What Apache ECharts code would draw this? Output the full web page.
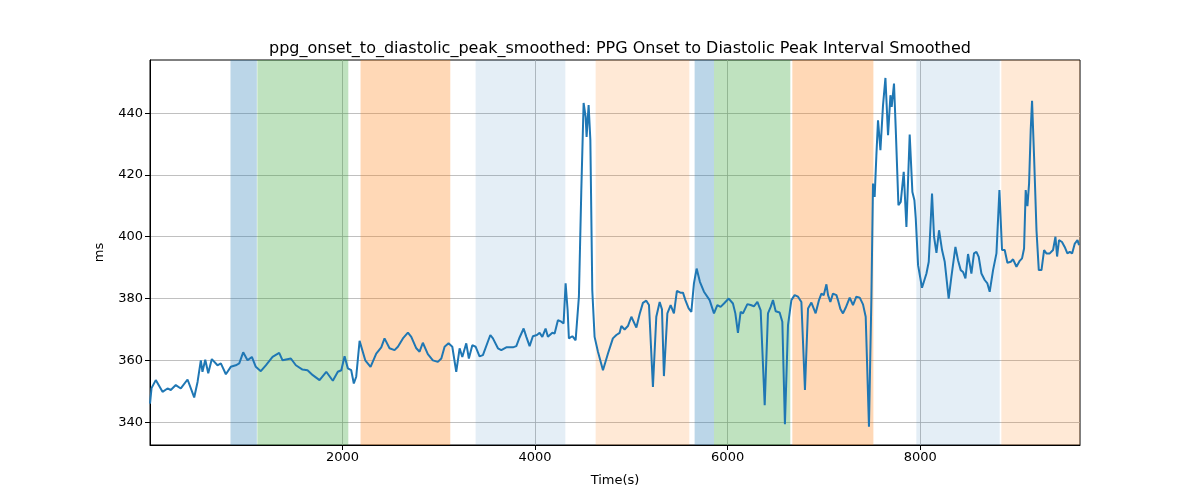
<!DOCTYPE html>
<html>
<head>
<meta charset="utf-8">
<script src="https://cdn.jsdelivr.net/npm/echarts@6/dist/echarts.min.js"></script>
<style>html,body{margin:0;padding:0;background:#fff;}#chart{width:1200px;height:500px;}</style>
</head>
<body>
<div id="chart"></div>
<script>
const titleText = 'ppg_onset_to_diastolic_peak_smoothed: PPG Onset to Diastolic Peak Interval Smoothed';
const xLabel = 'Time(s)';
const yLabel = 'ms';
const xTicks = [2000, 4000, 6000, 8000];
const yTicks = [340, 360, 380, 400, 420, 440];

const timeS = [0,16,60,130,182,216,268,320,390,459,494,528,545,574,605,642,701,736,788,839,891,927,968,1013,1058,1099,1151,1203,1273,1342,1377,1463,1515,1584,1636,
1691,1761,1831,1899,1951,1987,2021,2055,2090,2117,2142,2177,2236,2291,2350,2402,2436,2488,2540,2575,2627,2679,2714,2766,2800,2834,2886,2938,2990,3026,3060,3101,3140,3181,3216,3244,3285,3312,3348,3382,3423,3458,3535,3562,3614,3649,3701,3770,3805,3839,3881,3909,3943,3977,4019,4047,4075,4109,4133,4179,4203,4237,4272,4296,4317,4338,4351,4387,4421,4455,4480,4504,4525,4535,4556,4574,4594,4618,4653,4705,4757,4808,4844,4878,
4896,4930,4964,5000,5052,5086,5120,5155,5183,5224,5259,5294,5318,5338,5374,5408,5442,5473,5509,5536,5561,5595,5623,5650,5678,5712,5754,5813,5858,5893,5927,5962,6011,6055,6080,6107,6135,6159,6205,6239,6273,6309,6343,6385,6419,6447,6471,6499,6540,6568,6595,6627,6662,6696,6731,6766,6803,6835,6870,6914,6949,6974,6998,7026,7043,7067,7094,7130,7146,7171,7198,7226,7268,7302,7337,7372,7406,7434,7468,7493,7510,7527,7545,7562,7587,7614,7639,7666,7691,7704,7728,7746,7774,7798,7829,7857,7891,7919,7940,7954,7978,8019,8065,8089,8123,8144,8169,8196,8227,8255,8296,8324,8366,8393,8421,8445,8470,8497,8532,8559,8584,8608,8636,8670,8698,8722,8757,8792,8823,8850,8878,8906,8941,8965,9000,9034,9058,9079,9096,9114,9131,9148,9162,9183,9208,9232,9260,9287,9311,9346,9380,9405,9422,9442,9473,9501,9529,9554,9578,9606,9634,9650];

const valueMs = [346,351,353.6,349.8,350.9,350.4,352,350.9,353.8,348,353,360,356.3,360.2,355.8,360.4,358.4,359,355.5,357.9,358.4,359,362.6,360,361.1,357.9,356.5,358.4,361.1,362.4,360,360.6,358.4,357,356.8,
355.2,353.6,356.3,353.4,356.3,356.8,361.3,357.4,356.8,352.5,354.7,366.3,360,357.9,362.2,364.2,367.1,363.9,363.3,364.4,367.1,369,367.6,363.9,362.8,365.7,362,360,359.5,360.6,364.4,365.5,364.4,356.3,363.9,361.1,365.5,360.6,364.9,364.4,361.3,361.7,368.2,367.1,363.9,363.3,364.2,364.2,364.6,367.4,370.3,367.6,364.6,367.8,368.2,368.9,367.6,370.3,367.6,368.9,368.7,373,372.5,371.9,384.9,376.2,367.1,367.8,366.5,380.6,415,443.3,438.8,432.3,442.6,431.3,382.7,367.6,362.8,356.8,362.2,367.1,368.2,368.9,
371.1,370,371.1,374.1,370.6,375,378.6,379.3,377.9,351.4,374.1,378.9,376.5,354.9,375.2,377.9,375.2,382.5,381.9,381.9,379.5,376.8,375.7,384.9,389.7,385.4,382.2,379.5,375.2,377.9,377.3,378.4,380,378.4,375.2,368.9,375.7,375.2,378.2,377.9,377.5,378.9,376.2,345.5,375.2,377.3,379.5,375.9,375.5,372.5,339.3,371.4,379.5,381.1,380.6,378.9,350.4,376.8,378.7,375.2,379.5,381.6,381.1,384.6,381.1,378.9,381.6,381.1,379.5,376.6,375.2,377,380.3,377.9,380.6,380.3,378.1,374.1,338.5,380,417.2,412.9,426.4,437.7,428,442.6,451.4,432.9,445.8,442,449.6,435,410.2,411.3,421,403.2,433.1,414.5,411.8,405.9,390.8,383.5,388.1,391.9,414,400,394.8,402.1,395.7,391.9,380,387,396.7,392.4,389.2,388.6,386.5,394.4,388.1,394.6,395.1,393.5,388.1,386,384.9,382.2,389.2,394.6,415.1,395.7,395.7,391.6,391.9,392.7,390.3,392.2,393,396.2,415.1,409.9,417.2,434.5,444,425.9,402.1,389.2,389.2,395.7,394.6,394.6,395.7,400,393.6,398.9,398.3,396.7,394.6,395.1,394.6,397.8,398.9,397.3];

const bandStart = [836, 1115, 2187, 3382, 4629, 5657, 5858, 6672, 7960, 8843];
const bandEnd   = [1110, 2060, 3119, 4314, 5602, 5858, 6651, 7514, 8826, 9660];
const bandKind  = ['blue', 'green', 'orange', 'lightblue', 'lightorange', 'blue', 'green', 'orange', 'lightblue', 'lightorange'];

const kindColor = {
  blue: 'rgba(31,119,180,0.3)',
  green: 'rgba(44,160,44,0.3)',
  orange: 'rgba(255,127,14,0.3)',
  lightblue: 'rgba(31,119,180,0.12)',
  lightorange: 'rgba(255,127,14,0.17)'
};

const X_MIN = 0, X_MAX = 9660, Y_MIN = 332.6, Y_MAX = 457.2;
const font = 'DejaVu Sans';

const lineData = timeS.map((t, i) => [t, valueMs[i]]);
const areas = bandStart.map((s, i) => [
  { xAxis: s, itemStyle: { color: kindColor[bandKind[i]] } },
  { xAxis: bandEnd[i] }
]);

const chart = echarts.init(document.getElementById('chart'), null, { renderer: 'canvas' });
chart.setOption({
  animation: false,
  backgroundColor: '#fff',
  title: {
    text: titleText, left: 615, top: 36, textAlign: 'center',
    textStyle: { fontFamily: font, fontSize: 16, fontWeight: 'normal', color: '#000' }
  },
  grid: { left: 150, right: 120, top: 60, bottom: 55, show: true, borderColor: '#000', borderWidth: 1, backgroundColor: 'transparent' },
  xAxis: {
    type: 'value', min: X_MIN, max: X_MAX,
    name: xLabel, nameLocation: 'middle', nameGap: 29,
    nameTextStyle: { fontFamily: font, fontSize: 13, color: '#000' },
    axisLine: { show: true, onZero: false, lineStyle: { color: '#000', width: 1 } },
    axisTick: { show: true, length: 5, lineStyle: { color: '#000' }, customValues: xTicks },
    axisLabel: { fontFamily: font, fontSize: 13, color: '#000', margin: 6, customValues: xTicks, formatter: v => String(v) },
    splitLine: { show: true, lineStyle: { color: '#b0b0b0', width: 0.8 } }
  },
  yAxis: {
    type: 'value', min: Y_MIN, max: Y_MAX,
    name: yLabel, nameLocation: 'middle', nameGap: 44, nameRotate: 90,
    nameTextStyle: { fontFamily: font, fontSize: 13, color: '#000' },
    axisLine: { show: true, lineStyle: { color: '#000', width: 1 } },
    axisTick: { show: true, length: 5, lineStyle: { color: '#000' }, customValues: yTicks },
    axisLabel: { fontFamily: font, fontSize: 13, color: '#000', margin: 7, customValues: yTicks, formatter: v => String(v) },
    splitLine: { show: true, lineStyle: { color: '#b0b0b0', width: 0.8 } }
  },
  series: [{
    type: 'line', data: lineData, showSymbol: false, smooth: false,
    lineStyle: { color: '#1f77b4', width: 2 },
    z: 3,
    markArea: { silent: true, data: areas }
  }]
});
</script>
</body>
</html>
